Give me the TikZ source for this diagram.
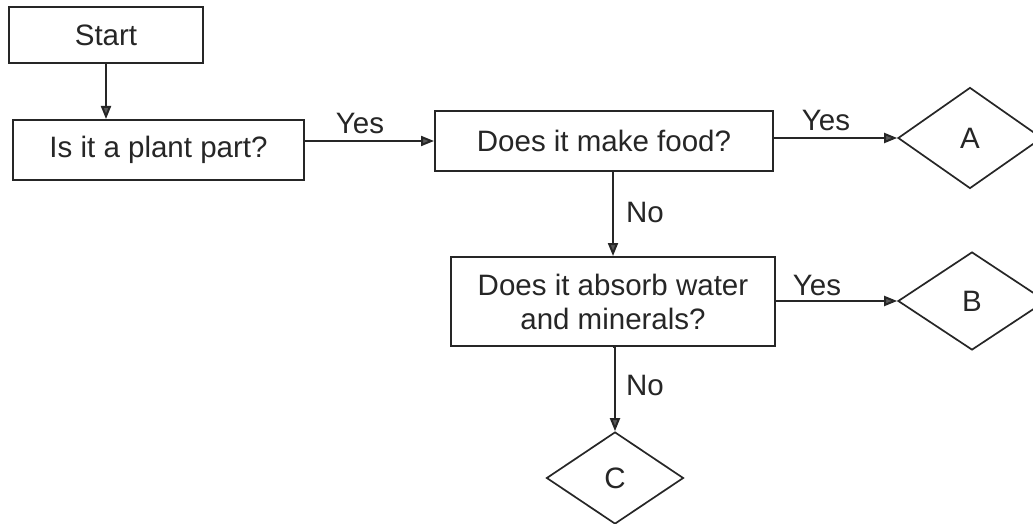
\documentclass[tikz,border=0pt]{standalone}
\usepackage{fontspec}
\setmainfont{Liberation Sans}
\usetikzlibrary{shapes.geometric,arrows.meta}
\definecolor{ink}{HTML}{262626}
\tikzset{
  box/.style={draw=ink, line width=2pt, rectangle, inner sep=0pt, align=center, text=ink},
  dia/.style={draw=ink, line width=1.7pt, diamond, inner sep=0pt, text=ink},
  conn/.style={draw=ink, line width=2pt, -{Triangle[length=13pt,width=10pt,fill=gray!70!black]}},
  lbl/.style={text=ink, inner sep=0pt},
}
\begin{document}
\begin{tikzpicture}[x=1pt,y=-1pt, font=\fontsize{29.5}{34}\selectfont]
\clip (0,0) rectangle (1033,524);
\fill[white] (0,0) rectangle (1033,524);
\node[box, minimum width=194pt, minimum height=56pt] (start) at (106,35) {Start};
\node[box, minimum width=291pt, minimum height=60pt] (plant) at (158.5,150) {Is it a plant part?};
\node[box, minimum width=338pt, minimum height=60pt] (food) at (604,141) {Does it make food?};
\node[box, minimum width=324pt, minimum height=89pt] (absorb) at (613,301.5) {Does it absorb water\\and minerals?};
\node[dia, minimum width=144pt, minimum height=101pt] (A) at (970,138) {A};
\node[dia, minimum width=148pt, minimum height=98pt] (B) at (972,301) {B};
\node[dia, minimum width=137pt, minimum height=92pt] (C) at (615,478) {C};
\draw[conn] (start.south) -- (start.south |- plant.north);
\draw[conn] (plant.east |- food.west) -- (food.west);
\draw[conn] (food.east |- A.west) -- (A.west);
\draw[conn] (absorb.north |- food.south) -- (absorb.north);
\draw[conn] (absorb.east |- B.west) -- (B.west);
\draw[conn] (absorb.south) -- (absorb.south -| C.north) -- (C.north);
\node[lbl] (y1) at (360,123) {Yes};
\node[lbl] (y2) at (826,120) {Yes};
\node[lbl] (n1) at (645,212) {No};
\node[lbl] (y3) at (817,285) {Yes};
\node[lbl] (n2) at (645,385) {No};
\end{tikzpicture}
\end{document}
